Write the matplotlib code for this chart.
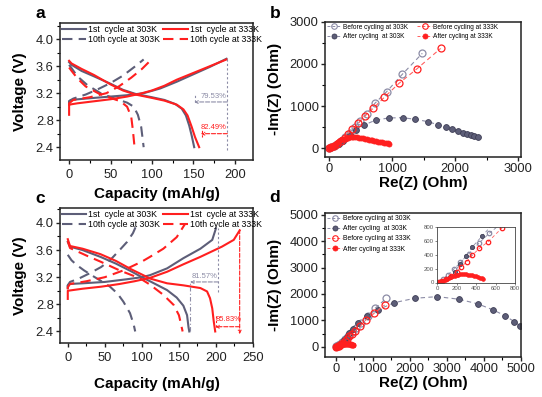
import matplotlib
matplotlib.use("Agg")
import matplotlib.pyplot as plt
from matplotlib.lines import Line2D
from matplotlib.ticker import AutoMinorLocator

plt.rcParams['font.family'] = ['Liberation Sans', 'DejaVu Sans']

GRAY = '#5d5e78'
GRAY_L = '#8c8ca6'
RED = '#ff1f1f'
RED_L = '#ff6060'

# ---------------- Panel a data (capacity mAh/g, voltage V) ----------------
a_c1_303_cap = [0, 0, 2, 20, 50, 70, 90, 110, 130, 150, 170, 190]
a_c1_303_v = [3.03, 3.08, 3.10, 3.12, 3.15, 3.17, 3.20, 3.27, 3.37, 3.48, 3.59, 3.71]
a_d1_303_cap = [0, 3, 15, 30, 50, 65, 80, 100, 115, 128, 136, 141, 145, 148, 151]
a_d1_303_v = [3.66, 3.62, 3.53, 3.45, 3.34, 3.25, 3.19, 3.14, 3.10, 3.04, 2.97, 2.87, 2.72, 2.57, 2.40]
a_c1_333_cap = [0, 0, 10, 30, 50, 70, 85, 100, 115, 130, 150, 170, 190]
a_c1_333_v = [2.88, 3.03, 3.05, 3.08, 3.11, 3.15, 3.19, 3.24, 3.31, 3.40, 3.50, 3.60, 3.70]
a_d1_333_cap = [0, 3, 15, 30, 50, 65, 80, 100, 115, 130, 138, 143, 148, 152, 157]
a_d1_333_v = [3.68, 3.64, 3.56, 3.47, 3.33, 3.24, 3.18, 3.13, 3.09, 3.03, 2.96, 2.87, 2.70, 2.55, 2.40]
a_c10_303_cap = [0, 0, 5, 20, 35, 50, 65, 80, 90]
a_c10_303_v = [3.05, 3.08, 3.12, 3.18, 3.26, 3.35, 3.46, 3.60, 3.70]
a_d10_303_cap = [0, 3, 10, 22, 38, 55, 70, 78, 83, 87, 90]
a_d10_303_v = [3.62, 3.57, 3.45, 3.32, 3.20, 3.12, 3.06, 3.00, 2.88, 2.70, 2.40]
a_c10_333_cap = [0, 0, 5, 25, 45, 60, 75, 88, 97]
a_c10_333_v = [3.02, 3.05, 3.10, 3.14, 3.20, 3.30, 3.43, 3.56, 3.67]
a_d10_333_cap = [0, 3, 10, 20, 35, 50, 62, 70, 75, 77, 79]
a_d10_333_v = [3.58, 3.53, 3.42, 3.30, 3.20, 3.13, 3.08, 3.00, 2.85, 2.65, 2.40]

# ---------------- Panel c data ----------------
c_c1_303_cap = [0, 0, 2, 20, 50, 80, 100, 111, 134, 156, 179, 195, 200]
c_c1_303_v = [3.04, 3.08, 3.10, 3.11, 3.13, 3.17, 3.20, 3.23, 3.33, 3.48, 3.62, 3.75, 3.92]
c_d1_303_cap = [0, 3, 20, 44, 65, 85, 100, 111, 134, 147, 156, 161, 163, 164]
c_d1_303_v = [3.72, 3.65, 3.60, 3.50, 3.40, 3.29, 3.20, 3.14, 3.01, 2.90, 2.78, 2.64, 2.46, 2.40]
c_c1_333_cap = [0, 0, 20, 45, 70, 90, 111, 134, 156, 179, 208, 224, 232]
c_c1_333_v = [2.88, 3.00, 3.03, 3.06, 3.10, 3.14, 3.19, 3.28, 3.39, 3.50, 3.65, 3.75, 3.89]
c_d1_333_cap = [0, 3, 20, 44, 65, 85, 100, 111, 134, 156, 179, 188, 192, 195, 197, 199]
c_d1_333_v = [3.76, 3.66, 3.62, 3.54, 3.44, 3.32, 3.24, 3.18, 3.11, 3.08, 3.04, 2.99, 2.89, 2.74, 2.55, 2.40]
c_c10_303_cap = [0, 0, 3, 15, 30, 45, 57, 70, 80, 88, 94]
c_c10_303_v = [3.05, 3.08, 3.13, 3.18, 3.26, 3.35, 3.45, 3.60, 3.72, 3.85, 4.00]
c_d10_303_cap = [0, 5, 12, 22, 35, 47, 57, 67, 75, 84, 89, 91]
c_d10_303_v = [3.53, 3.45, 3.38, 3.30, 3.21, 3.13, 3.06, 2.96, 2.84, 2.67, 2.50, 2.40]
c_c10_333_cap = [0, 0, 3, 25, 50, 75, 100, 111, 129, 147, 158]
c_c10_333_v = [3.02, 3.05, 3.10, 3.14, 3.20, 3.30, 3.43, 3.50, 3.62, 3.79, 3.98]
c_d10_333_cap = [0, 3, 25, 44, 70, 98, 111, 129, 143, 150, 153, 155]
c_d10_333_v = [3.73, 3.63, 3.52, 3.43, 3.30, 3.18, 3.09, 2.94, 2.79, 2.64, 2.50, 2.40]

# ---------------- Panel b data (Ohm) ----------------
b_before303_re = [10, 40, 80, 130, 190, 260, 340, 420, 491, 597, 729, 914, 1162, 1479]
b_before303_im = [5, 20, 50, 100, 170, 260, 370, 500, 640, 812, 1066, 1340, 1752, 2250]
b_after303_re = [15, 50, 100, 160, 230, 333, 423, 560, 745, 951, 1168, 1363, 1574, 1732,
                 1854, 1955, 2050, 2119, 2182, 2246, 2303, 2367]
b_after303_im = [5, 20, 50, 100, 180, 315, 433, 552, 670, 718, 725, 687, 630, 552,
                 497, 450, 402, 370, 339, 315, 291, 276]
b_before333_re = [10, 40, 80, 130, 190, 250, 296, 370, 465, 571, 702, 877, 1110, 1390, 1769]
b_before333_im = [5, 25, 60, 110, 170, 250, 339, 450, 592, 765, 947, 1207, 1539, 1878, 2367]
b_after333_re = [10, 20, 35, 50, 70, 90, 115, 140, 165, 190, 215, 240, 270, 300, 330, 360,
                 390, 420, 450, 480, 510, 540, 570, 600, 630, 660, 690, 720, 750, 780,
                 810, 840, 870, 900, 930, 960]
b_after333_im = [5, 12, 25, 40, 60, 85, 110, 140, 165, 190, 210, 230, 245, 255, 260, 262,
                 262, 260, 256, 250, 243, 235, 226, 217, 207, 197, 187, 177, 167, 157,
                 148, 140, 132, 125, 118, 112]

# ---------------- Panel d data (Ohm) ----------------
d_before303_re = [20, 60, 110, 170, 240, 330, 430, 536, 680, 870, 1066, 1365]
d_before303_im = [10, 50, 110, 190, 290, 420, 570, 713, 880, 1150, 1458, 1838]
d_after303_re = [15, 50, 90, 131, 182, 234, 296, 364, 463, 613, 841, 1129, 1582, 2133,
                 2740, 3327, 3842, 4249, 4566, 4818, 4980]
d_after303_im = [5, 20, 45, 82, 154, 266, 383, 518, 674, 911, 1166, 1393, 1671, 1836,
                 1899, 1800, 1621, 1393, 1177, 949, 786]
d_before333_re = [20, 50, 97, 148, 200, 251, 303, 364, 433, 525, 663, 814, 1039, 1319]
d_before333_im = [5, 15, 44, 92, 154, 227, 300, 397, 494, 591, 786, 1014, 1268, 1583]
d_after333_re = [5, 15, 30, 45, 60, 80, 100, 120, 140, 160, 180, 200, 220, 240, 260, 280,
                 300, 320, 340, 360, 380, 400, 420, 440, 460, 475]
d_after333_im = [2, 6, 12, 20, 28, 40, 52, 65, 78, 90, 100, 108, 114, 118, 120, 120,
                 118, 115, 110, 104, 96, 88, 78, 68, 58, 50]

W, H = 542, 397
fig = plt.figure(figsize=(W / 100, H / 100), dpi=100)


def ax_at(l, t, r, b):
    return fig.add_axes([l / W, 1 - b / H, (r - l) / W, (b - t) / H])


def style(ax, fs=9.3, xpad=1.5):
    for s in ax.spines.values():
        s.set_linewidth(1.1)
        s.set_color('#222222')
    ax.tick_params(direction='out', length=3, width=1, labelsize=fs, pad=1.5,
                   colors='#222222')
    ax.tick_params(axis='x', pad=xpad)
    ax.tick_params(which='minor', direction='out', length=2, width=0.8)
    ax.xaxis.set_minor_locator(AutoMinorLocator(2))
    ax.yaxis.set_minor_locator(AutoMinorLocator(2))


LW = 1.5
DASH = (0, (5, 3))

# ---------------- Panel a ----------------
axa = ax_at(60, 23, 253, 160)
style(axa, xpad=3.5)
axa.plot(a_c1_303_cap, a_c1_303_v, color=GRAY, lw=LW)
axa.plot(a_d1_303_cap, a_d1_303_v, color=GRAY, lw=LW)
axa.plot(a_c10_303_cap, a_c10_303_v, color=GRAY, lw=LW, ls=DASH)
axa.plot(a_d10_303_cap, a_d10_303_v, color=GRAY, lw=LW, ls=DASH)
axa.plot(a_c1_333_cap, a_c1_333_v, color=RED, lw=LW)
axa.plot(a_d1_333_cap, a_d1_333_v, color=RED, lw=LW)
axa.plot(a_c10_333_cap, a_c10_333_v, color=RED, lw=LW, ls=DASH)
axa.plot(a_d10_333_cap, a_d10_333_v, color=RED, lw=LW, ls=DASH)
axa.set_xlim(-11, 222)
axa.set_ylim(2.21, 4.24)
axa.set_xticks([0, 50, 100, 150, 200])
axa.set_yticks([2.4, 2.8, 3.2, 3.6, 4.0])
axa.set_xlabel('Capacity (mAh/g)', fontsize=11, fontweight='bold', labelpad=4.6)
axa.set_ylabel('Voltage (V)', fontsize=11, fontweight='bold', labelpad=6)
# annotations a
ann_lw = 0.8
axa.plot([191, 191], [2.36, 3.73], color=GRAY_L, lw=ann_lw, ls=(0, (2, 2)))
axa.plot([152, 152], [3.07, 3.19], color=GRAY_L, lw=ann_lw, ls=(0, (2, 2)))
axa.annotate('', xy=(151, 3.07), xytext=(191, 3.07),
             arrowprops=dict(arrowstyle='->', color=GRAY_L, lw=ann_lw, ls='--',
                             shrinkA=0, shrinkB=0, mutation_scale=5))
axa.text(174, 3.15, '79.53%', color=GRAY_L, fontsize=5.5, ha='center', va='center')
axa.plot([160, 160], [2.55, 2.66], color=RED, lw=ann_lw, ls=(0, (2, 2)))
axa.annotate('', xy=(159, 2.6), xytext=(191, 2.6),
             arrowprops=dict(arrowstyle='->', color=RED, lw=ann_lw, ls='--',
                             shrinkA=0, shrinkB=0, mutation_scale=5))
axa.text(174, 2.69, '82.49%', color=RED, fontsize=5.5, ha='center', va='center')

# ---------------- Panel c ----------------
axc = ax_at(60, 208, 253, 343)
style(axc, xpad=3.5)
axc.plot(c_c1_303_cap, c_c1_303_v, color=GRAY, lw=LW)
axc.plot(c_d1_303_cap, c_d1_303_v, color=GRAY, lw=LW)
axc.plot(c_c10_303_cap, c_c10_303_v, color=GRAY, lw=LW, ls=DASH)
axc.plot(c_d10_303_cap, c_d10_303_v, color=GRAY, lw=LW, ls=DASH)
axc.plot(c_c1_333_cap, c_c1_333_v, color=RED, lw=LW)
axc.plot(c_d1_333_cap, c_d1_333_v, color=RED, lw=LW)
axc.plot(c_c10_333_cap, c_c10_333_v, color=RED, lw=LW, ls=DASH)
axc.plot(c_d10_333_cap, c_d10_333_v, color=RED, lw=LW, ls=DASH)
axc.set_xlim(-10.5, 250)
axc.set_ylim(2.23, 4.22)
axc.set_xticks([0, 50, 100, 150, 200, 250])
axc.set_yticks([2.4, 2.8, 3.2, 3.6, 4.0])
axc.set_xlabel('Capacity (mAh/g)', fontsize=11, fontweight='bold', labelpad=9.5)
axc.set_ylabel('Voltage (V)', fontsize=11, fontweight='bold', labelpad=6)
axc.plot([203, 203], [2.98, 3.92], color=GRAY_L, lw=ann_lw, ls=(0, (2, 2)))
axc.plot([165, 165], [2.4, 3.13], color=GRAY_L, lw=ann_lw, ls=(0, (4, 2, 1, 2)))
axc.annotate('', xy=(165, 3.13), xytext=(203, 3.13),
             arrowprops=dict(arrowstyle='->', color=GRAY_L, lw=ann_lw, ls='--',
                             shrinkA=0, shrinkB=0, mutation_scale=5))
axc.text(184, 3.21, '81.57%', color=GRAY_L, fontsize=5.5, ha='center', va='center')
axc.annotate('', xy=(232, 2.36), xytext=(232, 3.9),
             arrowprops=dict(arrowstyle='->', color=RED, lw=ann_lw, ls='--',
                             shrinkA=0, shrinkB=0, mutation_scale=5))
axc.plot([200, 200], [2.47, 2.65], color=RED, lw=ann_lw, ls=(0, (2, 2)))
axc.annotate('', xy=(199, 2.47), xytext=(232, 2.47),
             arrowprops=dict(arrowstyle='->', color=RED, lw=ann_lw, ls='--',
                             shrinkA=0, shrinkB=0, mutation_scale=5))
axc.text(217, 2.58, '85.83%', color=RED, fontsize=5.5, ha='center', va='center')

for ax in (axa, axc):
    handles = [Line2D([], [], color=GRAY, lw=LW),
               Line2D([], [], color=GRAY, lw=LW, ls=DASH),
               Line2D([], [], color=RED, lw=LW),
               Line2D([], [], color=RED, lw=LW, ls=DASH)]
    labels = ['1st  cycle at 303K', '10th cycle at 303K',
              '1st  cycle at 333K', '10th cycle at 333K']
    ax.legend(handles, labels, ncol=2, loc='upper left', bbox_to_anchor=(0.0, 1.0),
              frameon=False, fontsize=6.3, handlelength=2.8, handletextpad=0.25,
              columnspacing=0.3, borderaxespad=0.1, borderpad=0.1, labelspacing=0.15)


# ---------------- EIS panels ----------------
def eis(ax, before303, after303, before333, after333, ms=5.0, ms_f=4.2, ms_r=3.6, lw=0.8):
    ax.plot(*before303, ls=(0, (4, 3)), color=GRAY_L, lw=lw, marker='o', mfc='none',
            mec=GRAY_L, ms=ms, mew=0.9)
    ax.plot(*after303, ls=(0, (4, 3)), color=GRAY_L, lw=lw, marker='o', mfc=GRAY,
            mec='#3e3e55', ms=ms_f, mew=0.6)
    ax.plot(*before333, ls=(0, (4, 3)), color=RED_L, lw=lw, marker='o', mfc='none',
            mec=RED, ms=ms, mew=0.9)
    ax.plot(*after333, ls=(0, (4, 3)), color=RED_L, lw=lw, marker='o', mfc=RED,
            mec=RED, ms=ms_r, mew=0.6)


def eis_handles():
    return [Line2D([], [], ls=(0, (3, 2)), color=GRAY_L, lw=0.7, marker='o', mfc='none', mec=GRAY_L, ms=4, mew=0.8),
            Line2D([], [], ls=(0, (3, 2)), color=GRAY_L, lw=0.7, marker='o', mfc=GRAY, mec='#3e3e55', ms=3.6, mew=0.6),
            Line2D([], [], ls=(0, (3, 2)), color=RED_L, lw=0.7, marker='o', mfc='none', mec=RED, ms=4, mew=0.8),
            Line2D([], [], ls=(0, (3, 2)), color=RED_L, lw=0.7, marker='o', mfc=RED, mec=RED, ms=3.6, mew=0.6)]


EIS_LABELS = ['Before cycling at 303K', 'After cycling  at 303K',
              'Before cycling at 333K', 'After cycling at 333K']

axb = ax_at(325, 21.7, 521, 156.7)
style(axb)
eis(axb, (b_before303_re, b_before303_im), (b_after303_re, b_after303_im),
    (b_before333_re, b_before333_im), (b_after333_re, b_after333_im))
axb.set_xlim(-60, 3040)
axb.set_ylim(-200, 3000)
axb.set_xticks([0, 1000, 2000, 3000])
axb.set_yticks([0, 1000, 2000, 3000])
axb.set_xlabel('Re(Z) (Ohm)', fontsize=11, fontweight='bold', labelpad=1)
axb.set_ylabel('-Im(Z) (Ohm)', fontsize=11, fontweight='bold', labelpad=5.5)
hb = eis_handles()
axb.legend([hb[0], hb[1], hb[2], hb[3]], EIS_LABELS, ncol=2, loc='upper left',
           bbox_to_anchor=(0.0, 1.0), frameon=False, fontsize=4.7, handlelength=2.2,
           handletextpad=0.2, columnspacing=1.5, borderaxespad=0.2, borderpad=0.1,
           labelspacing=0.35)

axd = ax_at(325, 213.3, 521, 356.7)
style(axd)
eis(axd, (d_before303_re, d_before303_im), (d_after303_re, d_after303_im),
    (d_before333_re, d_before333_im), (d_after333_re, d_after333_im))
axd.set_xlim(-290, 5000)
axd.set_ylim(-380, 5060)
axd.set_xticks([0, 1000, 2000, 3000, 4000, 5000])
axd.set_yticks([0, 1000, 2000, 3000, 4000, 5000])
axd.set_xlabel('Re(Z) (Ohm)', fontsize=11, fontweight='bold', labelpad=1)
axd.set_ylabel('-Im(Z) (Ohm)', fontsize=11, fontweight='bold', labelpad=5.5)
axd.legend(eis_handles(), EIS_LABELS, ncol=1, loc='upper left',
           bbox_to_anchor=(0.0, 1.0), frameon=False, fontsize=4.9, handlelength=2.2,
           handletextpad=0.2, borderaxespad=0.2, borderpad=0.1, labelspacing=0.45)

axi = ax_at(437, 227.3, 515, 282.5)
for s in axi.spines.values():
    s.set_linewidth(0.6)
    s.set_color('#444444')
axi.tick_params(direction='out', length=1.5, width=0.5, labelsize=4.3, pad=0.8,
                colors='#555555')
eis(axi, (d_before303_re, d_before303_im), (d_after303_re, d_after303_im),
    (d_before333_re, d_before333_im), (d_after333_re, d_after333_im),
    ms=3.2, ms_f=3.0, ms_r=2.6, lw=0.6)
axi.set_xlim(0, 800)
axi.set_ylim(0, 800)
axi.set_xticks([0, 200, 400, 600, 800])
axi.set_yticks([0, 200, 400, 600, 800])

# panel letters
for lbl, x, y in [('a', 40, 14), ('b', 275, 13), ('c', 40, 198), ('d', 275, 197)]:
    fig.text(x / W, 1 - y / H, lbl, fontsize=12.5, fontweight='bold', ha='center',
             va='center')

fig.savefig('out.png', dpi=100)
